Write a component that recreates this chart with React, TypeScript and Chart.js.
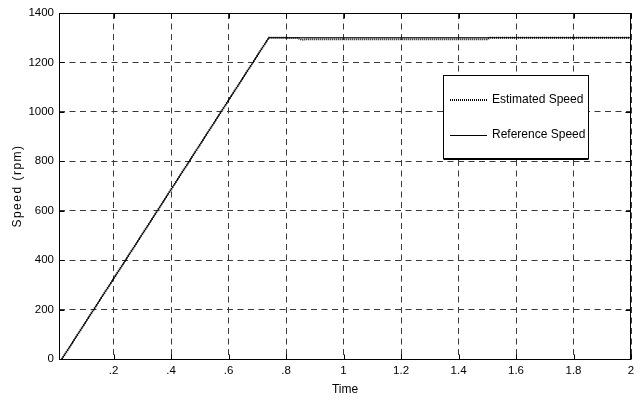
import React, { useEffect, useRef } from "react";
import { Chart, registerables } from "chart.js";

Chart.register(...registerables);

// ---- data ----
const refTime = [0.02, 0.74, 2.0];
const refSpeed = [0, 1300, 1300];
const estTime = [0.02, 0.74, 0.84, 0.855, 0.87, 1.5, 1.51, 2.0];
const estSpeed = [0, 1300, 1299, 1292, 1294, 1294, 1300, 1300];

const xTickValues = [0.2, 0.4, 0.6, 0.8, 1.0, 1.2, 1.4, 1.6, 1.8, 2.0];
const xTickLabels = [".2", ".4", ".6", ".8", "1", "1.2", "1.4", "1.6", "1.8", "2"];
const yTickValues = [0, 200, 400, 600, 800, 1000, 1200, 1400];
const yTickLabels = ["0", "200", "400", "600", "800", "1000", "1200", "1400"];

const seriesLabels = ["Estimated Speed", "Reference Speed"];
const xTitle = "Time";
const yTitle = "Speed (rpm)";

const FONT = "'Liberation Sans', Arial, sans-serif";

const matlabPlugin = {
  id: "matlabFrame",
  afterDatasetsDraw(chart: any) {
    const { ctx, chartArea } = chart;
    const L = Math.round(chartArea.left) + 0.5;
    const R = Math.round(chartArea.right) - 0.5;
    const T = Math.round(chartArea.top) + 0.5;
    const B = Math.round(chartArea.bottom) + 0.5;
    ctx.save();
    ctx.strokeStyle = "#000";
    ctx.lineWidth = 1;
    ctx.setLineDash([]);
    const xs = chart.scales.x;
    const ys = chart.scales.y;
    const tl = 5;
    ctx.beginPath();
    xs.ticks.forEach((t: any) => {
      const px = Math.round(xs.getPixelForValue(t.value)) + 0.5;
      ctx.moveTo(px, B);
      ctx.lineTo(px, B - tl);
      ctx.moveTo(px, T);
      ctx.lineTo(px, T + tl);
    });
    ys.ticks.forEach((t: any) => {
      const py = Math.round(ys.getPixelForValue(t.value)) + 0.5;
      ctx.moveTo(L, py);
      ctx.lineTo(L + tl, py);
      ctx.moveTo(R, py);
      ctx.lineTo(R - tl, py);
    });
    ctx.stroke();
    ctx.strokeRect(L, T, R - L, B - T);
    ctx.restore();
  },
  afterDraw(chart: any) {
    const { ctx, chartArea } = chart;
    ctx.save();
    ctx.font = `12px ${FONT}`;
    ctx.fillStyle = "#000";
    (ctx as any).letterSpacing = "1.5px";
    ctx.translate(18, (chartArea.top + chartArea.bottom) / 2);
    ctx.rotate(-Math.PI / 2);
    ctx.textAlign = "center";
    ctx.textBaseline = "middle";
    ctx.fillText(yTitle, 0, 0);
    ctx.restore();

    ctx.save();
    const bx = 443.5, by = 75.5, bw = 145, bh = 83;
    ctx.fillStyle = "#fff";
    ctx.fillRect(bx, by, bw, bh);
    ctx.strokeStyle = "#000";
    ctx.lineWidth = 1;
    ctx.strokeRect(bx, by, bw, bh);
    ctx.beginPath();
    ctx.moveTo(bx, by + bh + 1);
    ctx.lineTo(bx + bw, by + bh + 1);
    ctx.stroke();
    ctx.font = `12px ${FONT}`;
    ctx.textAlign = "left";
    ctx.textBaseline = "middle";
    const rows = [100, 135];
    chart.data.datasets.forEach((ds: any, i: number) => {
      const y = ds.borderWidth === 2 ? rows[i] : rows[i] + 0.5;
      ctx.save();
      ctx.strokeStyle = ds.borderColor;
      ctx.lineWidth = ds.borderWidth;
      ctx.setLineDash(ds.borderDash || []);
      ctx.beginPath();
      ctx.moveTo(450, y);
      ctx.lineTo(487, y);
      ctx.stroke();
      ctx.restore();
      ctx.fillStyle = "#000";
      ctx.fillText(ds.label, 492, rows[i]);
    });
    ctx.restore();
  },
};

export default function App() {
  const ref = useRef<HTMLCanvasElement | null>(null);
  useEffect(() => {
    document.body.style.margin = "0";
    const canvas = ref.current;
    if (!canvas) return;
    const chart = new Chart(canvas, {
      type: "line",
      data: {
        datasets: [
          {
            label: seriesLabels[0],
            data: estTime.map((t, i) => ({ x: t, y: estSpeed[i] })),
            borderColor: "#000",
            borderWidth: 2,
            borderDash: [1, 1],
            pointRadius: 0,
            fill: false,
            tension: 0,
          },
          {
            label: seriesLabels[1],
            data: refTime.map((t, i) => ({ x: t, y: refSpeed[i] })),
            borderColor: "#000",
            borderWidth: 1,
            pointRadius: 0,
            fill: false,
            tension: 0,
          },
        ],
      },
      options: {
        animation: false,
        responsive: false,
        layout: { padding: { left: 0, right: 11, top: 13, bottom: 0 } },
        plugins: { legend: { display: false }, tooltip: { enabled: false } },
        scales: {
          x: {
            type: "linear",
            min: 0.01,
            max: 2,
            afterBuildTicks: (s: any) => {
              s.ticks = xTickValues.map((v) => ({ value: v }));
            },
            afterFit: (s: any) => {
              s.height = 41;
            },
            grid: { color: "#3a3a3a", lineWidth: 1, drawTicks: false },
            border: { display: false, dash: [6, 4.5] },
            ticks: {
              color: "#000",
              padding: 5,
              maxRotation: 0,
              autoSkip: false,
              font: { family: FONT, size: 11.5 },
              callback: (_v: any, i: number) => xTickLabels[i],
            },
            title: {
              display: true,
              text: xTitle,
              color: "#000",
              font: { family: FONT, size: 12 },
              padding: { top: 0, bottom: 3 },
            },
          },
          y: {
            type: "linear",
            min: 0,
            max: 1400,
            afterBuildTicks: (s: any) => {
              s.ticks = yTickValues.map((v) => ({ value: v }));
            },
            afterFit: (s: any) => {
              s.width = 59;
            },
            grid: { color: "#3a3a3a", lineWidth: 1, drawTicks: false },
            border: { display: false, dash: [6, 4.5] },
            ticks: {
              color: "#000",
              padding: 5,
              autoSkip: false,
              font: { family: FONT, size: 11.5 },
              callback: (_v: any, i: number) => yTickLabels[i],
            },
          },
        },
      },
      plugins: [matlabPlugin],
    } as any);
    return () => chart.destroy();
  }, []);
  return (
    <div style={{ width: 642, height: 400, background: "#fff" }}>
      <canvas ref={ref} width={642} height={400} style={{ display: "block" }} />
    </div>
  );
}
